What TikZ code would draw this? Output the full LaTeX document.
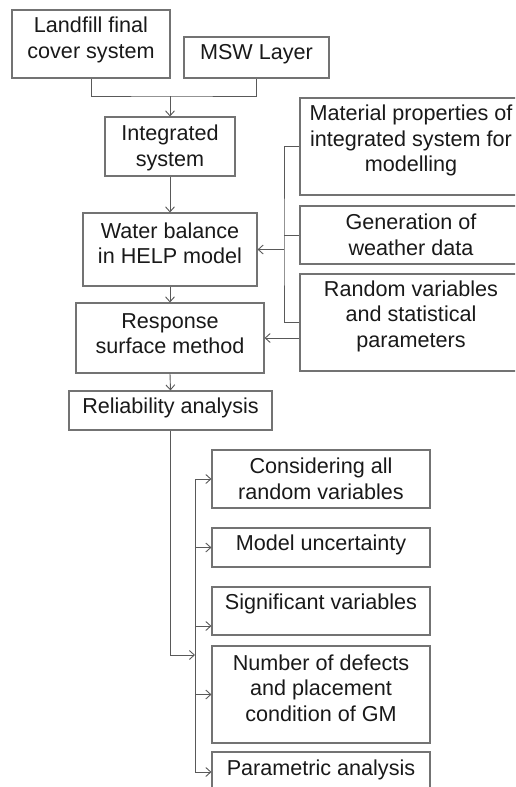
\documentclass[tikz,border=0pt]{standalone}
\usepackage{fontspec}
\setmainfont{Liberation Sans}
\usetikzlibrary{arrows.meta}

\begin{document}
\begin{tikzpicture}[
    x=1pt, y=-1pt,
    >={Straight Barb[length=5pt, width=9pt]},
    every node/.style={font=\fontsize{21.6}{25.5}\selectfont, text=black!90},
    box/.style={draw=black!55, line width=1.1pt, align=center, inner sep=0pt},
    lift/.style={text depth=#1},
    link/.style={draw=black!65, line width=0.9pt}
]
   \clip (0,0) rectangle (515,787);

   % Modelling chain
   \node[box, lift=12.4pt, minimum width=158, minimum height=68] (land) at (91,44) {Landfill final\\cover system};
   \node[box, lift=10.4pt, minimum width=145, minimum height=41] (msw) at (256.5,57.5) {MSW Layer};
   \node[box, lift=2pt, minimum width=130, minimum height=59] (integ) at (170,146.5) {Integrated\\system};
   \node[box, lift=13pt, minimum width=174, minimum height=73] (water) at (170,249.5) {Water balance\\in HELP model};
   \node[box, lift=9pt, minimum width=188, minimum height=70] (resp) at (170,338) {Response\\surface method};
   \node[box, lift=9.4pt, minimum width=203, minimum height=39] (reli) at (170.5,410.5) {Reliability analysis};

   % Inputs
   \node[box, lift=16.4pt, minimum width=222, minimum height=97] (matprop) at (411,146.5) {Material properties of\\integrated system for\\modelling};
   \node[box, minimum width=222, minimum height=58] (weather) at (411,235) {Generation of\\weather data};
   \node[box, lift=17.4pt, minimum width=222, minimum height=97] (randvar) at (411,322.5) {Random variables\\and statistical\\parameters};

   % Analyses
   \node[box, minimum width=218, minimum height=58] (allvar) at (321,479) {Considering all\\random variables};
   \node[box, lift=9.4pt, minimum width=218, minimum height=39] (modunc) at (321,547.5) {Model uncertainty};
   \node[box, lift=18.4pt, minimum width=218, minimum height=48] (sigvar) at (321,611) {Significant variables};
   \node[box, lift=13pt, minimum width=218, minimum height=97] (defects) at (321,694.5) {Number of defects\\and placement\\condition of GM};
   \node[box, lift=8.4pt, minimum width=218, minimum height=40] (param) at (321,772) {Parametric analysis};

   \coordinate (merge) at (170,96);
   \coordinate (inbus) at (284,249.5);
   \coordinate (outbus) at (195,655);

   % Main flow
   \draw[link] (land.south) |- (merge) -| (msw.south);
   \draw[link, ->] (merge) -- (integ.north);
   \draw[link, ->] (integ.south) -- (water.north);
   \draw[link, ->] (water.south) -- (resp.north);
   \draw[link, ->] (resp.south) -- (reli.north);

   % Inputs to the model
   \draw[link] (matprop.west) -| (inbus) |- (randvar.west);
   \draw[link] (weather.west) -- (weather.west -| inbus);
   \draw[link, ->] (inbus) -- (water.east);
   \draw[link, ->] (randvar.west |- resp.east) -- (resp.east);

   % Reliability branches
   \draw[link, ->] (reli.south) |- (outbus);
   \draw[link] (allvar.west -| outbus) -- (param.west -| outbus);
   \draw[link, ->] (allvar.west -| outbus) -- (allvar.west);
   \draw[link, ->] (modunc.west -| outbus) -- (modunc.west);
   \draw[link, ->] ([yshift=-15pt]sigvar.west -| outbus) -- ([yshift=-15pt]sigvar.west);
   \draw[link, ->] (defects.west -| outbus) -- (defects.west);
   \draw[link, ->] (param.west -| outbus) -- (param.west);
\end{tikzpicture}
\end{document}
